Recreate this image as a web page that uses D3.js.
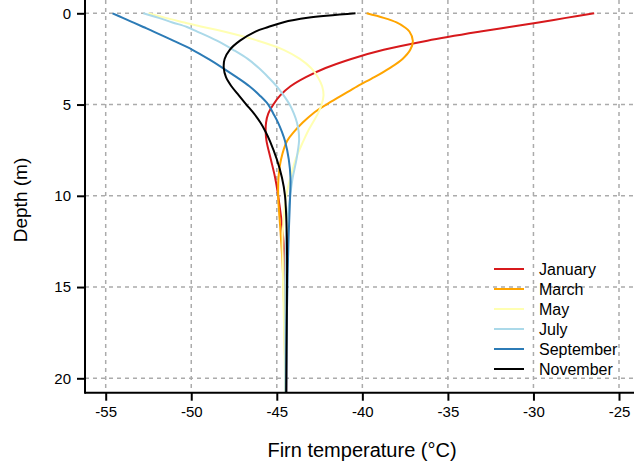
<!DOCTYPE html>
<html>
<head>
<meta charset="utf-8">
<script src="https://cdn.jsdelivr.net/npm/d3@7"></script>
<style>
  body { margin: 0; background: #fff; }
  svg { font-family: "Liberation Sans", Arial, sans-serif; }
</style>
</head>
<body>
<script>

// depth grid (m) shared by every profile
var depths = [0, 0.25, 0.5, 0.75, 1, 1.5, 2, 2.5, 3, 3.5, 4, 4.5, 5, 5.5, 6, 6.5, 7, 8, 9, 10, 12, 14, 17, 21];

// firn temperature (°C) at each depth, one array per month
var january   = [-26.45, -28.1, -29.7, -31.4, -33.1, -36.2, -38.75, -40.65, -42.15, -43.3, -44.2, -44.8, -45.2, -45.5, -45.63, -45.65, -45.6, -45.35, -45.1, -44.92, -44.65, -44.52, -44.47, -44.45];
var march     = [-39.75, -38.75, -38.0, -37.55, -37.25, -37.05, -37.2, -37.65, -38.4, -39.3, -40.3, -41.2, -42.1, -42.9, -43.5, -44.0, -44.4, -44.75, -44.9, -44.92, -44.78, -44.65, -44.55, -44.5];
var may       = [-52.5, -51.5, -50.4, -49.3, -48.1, -46.1, -44.6, -43.65, -43.0, -42.6, -42.35, -42.27, -42.38, -42.6, -42.9, -43.2, -43.45, -43.9, -44.2, -44.45, -44.65, -44.65, -44.58, -44.5];
var july      = [-52.8, -51.9, -51.1, -50.25, -49.65, -48.5, -47.55, -46.7, -46.05, -45.5, -45.0, -44.6, -44.25, -44.0, -43.82, -43.72, -43.7, -43.85, -44.07, -44.22, -44.45, -44.5, -44.5, -44.5];
var september = [-54.6, -54.0, -53.4, -52.8, -52.2, -51.05, -49.93, -49.0, -48.15, -47.35, -46.6, -46.0, -45.5, -45.2, -44.92, -44.7, -44.52, -44.3, -44.2, -44.22, -44.3, -44.36, -44.42, -44.45];
var november  = [-40.4, -43.2, -44.65, -45.5, -46.25, -47.15, -47.75, -48.05, -48.1, -47.97, -47.65, -47.22, -46.78, -46.33, -45.95, -45.65, -45.4, -45.0, -44.7, -44.52, -44.42, -44.4, -44.42, -44.45];

var months = ["January", "March", "May", "July", "September", "November"];
var colors = ["#d7191c", "#ffa500", "#ffffb2", "#abd9e9", "#2c7bb6", "#000000"];
var profiles = [january, march, may, july, september, november];

var xTicks = [-55, -50, -45, -40, -35, -30, -25];
var yTicks = [0, 5, 10, 15, 20];

var svgWidth = 634;
var svgHeight = 470;

// plot box edges
var box = { left: 85, right: 634, top: 0, bottom: 392.7 };

var svg = d3.select("body")
  .append("svg")
  .attr("width", svgWidth)
  .attr("height", svgHeight);

var x = d3.scaleLinear()
  .domain([-55, -25])
  .range([105.7, 619]);

var y = d3.scaleLinear()
  .domain([0, 20])
  .range([13.3, 378.3]);

// grid
var grid = svg.append("g")
  .attr("stroke", "#ababab")
  .attr("stroke-width", 1.5)
  .attr("stroke-dasharray", "4,4");

grid.selectAll("line.v")
  .data(xTicks)
  .enter()
  .append("line")
  .attr("class", "v")
  .attr("x1", d => x(d)).attr("x2", d => x(d))
  .attr("y1", box.top).attr("y2", box.bottom);

grid.selectAll("line.h")
  .data(yTicks)
  .enter()
  .append("line")
  .attr("class", "h")
  .attr("x1", box.left).attr("x2", box.right)
  .attr("y1", d => y(d)).attr("y2", d => y(d));

// clip the profiles to the plot box
svg.append("clipPath")
  .attr("id", "plotClip")
  .append("rect")
  .attr("x", box.left).attr("y", box.top)
  .attr("width", box.right - box.left).attr("height", box.bottom - box.top);

var line = d3.line()
  .x(d => x(d[1]))
  .y(d => y(d[0]))
  .curve(d3.curveCatmullRom.alpha(0.5));

svg.append("g")
  .attr("clip-path", "url(#plotClip)")
  .selectAll("path")
  .data(profiles)
  .enter()
  .append("path")
  .attr("d", temps => line(depths.map((dp, i) => [dp, temps[i]])))
  .attr("fill", "none")
  .attr("stroke", (d, i) => colors[i])
  .attr("stroke-width", 2);

// axes (plain hyphen for negatives, like the original)
var xAxis = svg.append("g")
  .attr("transform", `translate(0, ${box.bottom})`)
  .call(d3.axisBottom(x).tickValues(xTicks).tickFormat(d => String(d))
    .tickSize(8).tickPadding(6).tickSizeOuter(0));

var yAxis = svg.append("g")
  .attr("transform", `translate(${box.left}, 0)`)
  .call(d3.axisLeft(y).tickValues(yTicks).tickFormat(d => String(d))
    .tickSize(8).tickPadding(6).tickSizeOuter(0));

[xAxis, yAxis].forEach(function(ax) {
  ax.select(".domain").remove();
  ax.selectAll("line").attr("stroke", "#000").attr("stroke-width", 2);
  ax.selectAll("text")
    .attr("fill", "#000")
    .style("font-size", "15px")
    .style("font-family", "'Liberation Sans', Arial, sans-serif");
});

svg.append("line")
  .attr("x1", box.left).attr("x2", box.right)
  .attr("y1", box.bottom).attr("y2", box.bottom)
  .attr("stroke", "#000").attr("stroke-width", 2);

svg.append("line")
  .attr("x1", box.left).attr("x2", box.left)
  .attr("y1", box.top).attr("y2", box.bottom + 1)
  .attr("stroke", "#000").attr("stroke-width", 2);

// axis titles
svg.append("text")
  .attr("x", 362)
  .attr("y", 457)
  .attr("text-anchor", "middle")
  .style("font-size", "20px")
  .text("Firn temperature (°C)");

svg.append("text")
  .attr("transform", "translate(27, 200) rotate(-90)")
  .attr("text-anchor", "middle")
  .style("font-size", "19px")
  .text("Depth (m)");

// legend
var legend = svg.append("g")
  .attr("transform", "translate(494, 269)");

var rows = legend.selectAll("g")
  .data(months)
  .enter()
  .append("g")
  .attr("transform", (d, i) => `translate(0, ${i * 20})`);

rows.append("line")
  .attr("x1", 0).attr("x2", 30)
  .attr("stroke", (d, i) => colors[i])
  .attr("stroke-width", 2);

rows.append("text")
  .attr("x", 45)
  .attr("dy", "0.35em")
  .style("font-size", "16px")
  .text(d => d);

</script>
</body>
</html>
